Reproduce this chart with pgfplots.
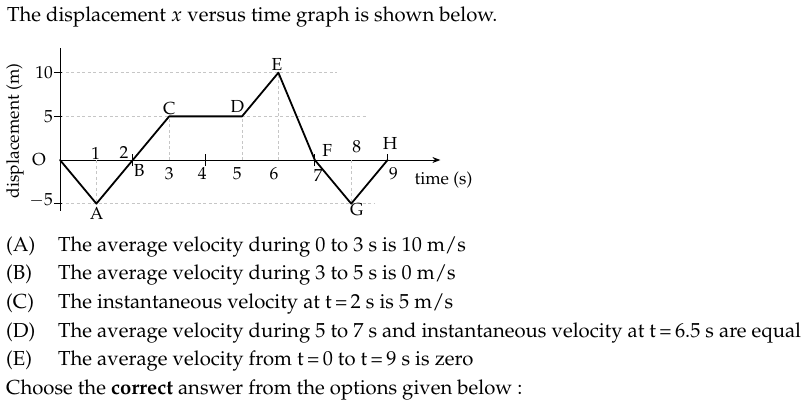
\documentclass[border=0pt]{standalone}
\usepackage[T1]{fontenc}
\usepackage{mathpazo}
\usepackage{pgfplots}
\pgfplotsset{compat=1.18}
\usetikzlibrary{arrows.meta}
\begin{document}
\begin{tikzpicture}[x=1bp,y=1bp]
\path[use as bounding box] (0,0) rectangle (804,-406);
\tikzset{lab/.style={font=\fontsize{17.5}{20}\selectfont, inner sep=0pt},
  txt/.style={font=\fontsize{20.35}{24}\selectfont, inner sep=0pt, anchor=base west},
  grd/.style={gray!45, line width=0.9bp, dash pattern=on 3bp off 2.5bp}}
\begin{axis}[
  at={(60bp,-210.63bp)}, anchor=south west,
  x=36.4bp, y=8.73bp,
  xmin=0, xmax=10.45, ymin=-5.8, ymax=12.8,
  axis lines=middle,
  axis line style={line width=1bp},
  x axis line style={-{Stealth[length=8bp,width=6bp]}},
  y axis line style={-},
  xtick=\empty, ytick=\empty,
  clip=false,
]
\draw[grd] (axis cs:0,10) -- (axis cs:7.6,10);
\draw[grd] (axis cs:0,5) -- (axis cs:8.4,5);
\draw[grd] (axis cs:0,-5) -- (axis cs:8.65,-5);
\draw[grd] (axis cs:1,0) -- (axis cs:1,-5);
\draw[grd] (axis cs:3,0) -- (axis cs:3,5);
\draw[grd] (axis cs:5,0) -- (axis cs:5,5);
\draw[grd] (axis cs:6,0) -- (axis cs:6,10);
\draw[grd] (axis cs:8,0) -- (axis cs:8,-5);
\draw[line width=1bp] (axis cs:-0.165,10) -- (axis cs:0.055,10);
\draw[line width=1bp] (axis cs:-0.165,5) -- (axis cs:0.055,5);
\draw[line width=1bp] (axis cs:-0.165,-5) -- (axis cs:0.055,-5);
\draw[line width=1bp] (axis cs:2,-0.69) -- (axis cs:2,0.69);
\draw[line width=1bp] (axis cs:4,-0.69) -- (axis cs:4,0.69);
\draw[line width=1bp] (axis cs:7,-0.69) -- (axis cs:7,0.69);
\draw[line width=1bp] (axis cs:9,0) -- (axis cs:9,0.69);
\addplot[black, line width=1.8bp, line join=round, line cap=round, mark=none] coordinates {(0,0) (1,-5) (2,0) (3,5) (5,5) (6,10) (7,0) (8,-5) (9,0)};
\end{axis}
% axis labels
\node[lab, rotate=90] at (15,-131) {displacement (m)};
\node[lab] at (443.5,-180) {time (s)};
\node[lab, anchor=east] at (53,-73) {$10$};
\node[lab, anchor=east] at (53,-116.7) {$5$};
\node[lab, anchor=east] at (53,-200) {$-5$};
\node[lab] at (39,-160) {O};
% point labels
\node[lab] at (96.7,-213) {A};
\node[lab] at (139.3,-170.7) {B};
\node[lab] at (169.3,-108.3) {C};
\node[lab] at (237.3,-106.7) {D};
\node[lab] at (277,-64) {E};
\node[lab] at (327.3,-150) {F};
\node[lab] at (356.7,-210) {G};
\node[lab] at (390,-143.3) {H};
\node[lab] at (95.7,-153) {1};
\node[lab] at (124,-152) {2};
\node[lab] at (169.3,-173.3) {3};
\node[lab] at (202.3,-173.3) {4};
\node[lab] at (237.3,-173.3) {5};
\node[lab] at (274,-173.3) {6};
\node[lab] at (318.3,-175) {7};
\node[lab] at (356.7,-146.7) {8};
\node[lab] at (393.5,-173.3) {9};
% text
\node[txt] at (7,-21) {The displacement $x$ versus time graph is shown below.};
\node[txt] at (6,-251) {(A)};
\node[txt] at (58,-251) {The average velocity during 0 to 3 s is 10 m/s};
\node[txt] at (6,-279.5) {(B)};
\node[txt] at (58,-279.5) {The average velocity during 3 to 5 s is 0 m/s};
\node[txt] at (6,-308) {(C)};
\node[txt] at (58,-308) {The instantaneous velocity at t\,=\,2 s is 5 m/s};
\node[txt] at (6,-337) {(D)};
\node[txt] at (58,-337) {The average velocity during 5 to 7 s and instantaneous velocity at t\,=\,6.5 s are equal};
\node[txt] at (6,-365.5) {(E)};
\node[txt] at (58,-365.5) {The average velocity from t\,=\,0 to t\,=\,9 s is zero};
\node[txt] at (6,-394.5) {Choose the \textbf{correct} answer from the options given below :};
\end{tikzpicture}
\end{document}
